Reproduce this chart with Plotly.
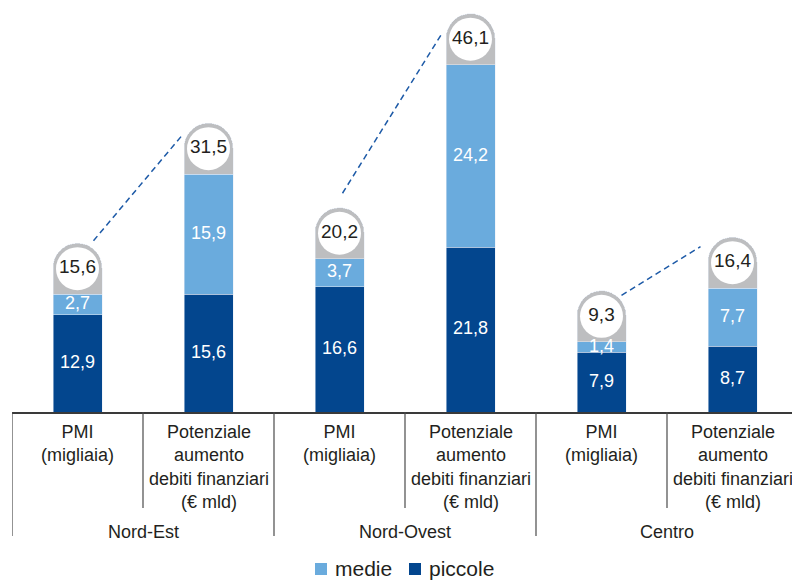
import plotly.graph_objects as go

# --- data -------------------------------------------------------------
regions = ["Nord-Est", "Nord-Ovest", "Centro"]
measures = ["PMI<br>(migliaia)",
            "Potenziale<br>aumento<br>debiti finanziari<br>(€ mld)"]
series_names = ["medie", "piccole"]
piccole = [12.9, 15.6, 16.6, 21.8, 7.9, 8.7]
medie = [2.7, 15.9, 3.7, 24.2, 1.4, 7.7]
totali = [15.6, 31.5, 20.2, 46.1, 9.3, 16.4]

# --- style ------------------------------------------------------------
DARK = "#03468E"
LIGHT = "#6AABDD"
CAP_GREY = "#BDBEC0"
TEXT = "#231F20"
FONT = "Liberation Sans, Arial, Helvetica, sans-serif"

W, H = 792, 580
LEFT, PLOT_H = 12, 412
PX_X = 131.0      # pixels per category slot
PX_Y = 7.55       # pixels per data unit
CAP = 51 / PX_Y   # grey cap height above each stack (data units)
BAR_W = 49 / PX_X

x = list(range(len(piccole)))
tops = [p + m for p, m in zip(piccole, medie)]


def fmt(v):
    return f"{v:.1f}".replace(".", ",")


def py(p):
    """pixel row -> paper y"""
    return (PLOT_H - p) / PLOT_H


def px(p):
    """pixel column -> paper x"""
    return (p - LEFT) / (W - LEFT)


fig = go.Figure()

fig.add_bar(x=x, y=piccole, name="piccole", marker_color=DARK,
            width=BAR_W, showlegend=False, hoverinfo="skip")
fig.add_bar(x=x, y=medie, name="medie", marker_color=LIGHT,
            width=BAR_W, showlegend=False, hoverinfo="skip")
fig.add_bar(x=x, y=[CAP] * len(x), marker_color=CAP_GREY, width=BAR_W,
            showlegend=False, hoverinfo="skip")

# segment values
fig.add_scatter(x=x, y=[p / 2 for p in piccole], mode="text",
                text=[fmt(v) for v in piccole], showlegend=False,
                textfont=dict(color="white", size=18, family=FONT),
                hoverinfo="skip", cliponaxis=False)
fig.add_scatter(x=x, y=[p + m / 2 for p, m in zip(piccole, medie)],
                mode="text", text=[fmt(v) for v in medie], showlegend=False,
                textfont=dict(color="white", size=18, family=FONT),
                hoverinfo="skip", cliponaxis=False)

# totals in white discs inside the caps
fig.add_scatter(x=x, y=[t + CAP / 2 for t in tops], mode="markers+text",
                marker=dict(size=43, color="white", line_width=0),
                text=[fmt(v) for v in totali], textposition="middle center",
                textfont=dict(color=TEXT, size=19, family=FONT),
                showlegend=False, hoverinfo="skip", cliponaxis=False)

# dashed connectors between the two discs of each region (pixel offsets)
start_off = [(16, -28), (3, -40), (20, -21)]
end_off = [(-25, -15), (-29, -5), (-32, -16)]
for g in range(len(regions)):
    a, b = 2 * g, 2 * g + 1
    ca = tops[a] + CAP / 2
    cb = tops[b] + CAP / 2
    xs = [a + start_off[g][0] / PX_X, b + end_off[g][0] / PX_X]
    ys = [ca - start_off[g][1] / PX_Y, cb - end_off[g][1] / PX_Y]
    fig.add_scatter(x=xs, y=ys, mode="lines", showlegend=False,
                    line=dict(color="#1D5AA7", width=1.5, dash="6px,4px"),
                    hoverinfo="skip", cliponaxis=False)

# category labels, region labels and separators under the axis
annotations = []
shapes = []
for i in x:
    annotations.append(dict(x=i, y=py(420), xref="x", yref="paper",
                            text=measures[i % 2], showarrow=False,
                            yanchor="top", xanchor="center",
                            font=dict(size=18, color=TEXT, family=FONT)))
for g, name in enumerate(regions):
    annotations.append(dict(x=2 * g + 0.5, y=py(520), xref="x", yref="paper",
                            text=name, showarrow=False, yanchor="top",
                            xanchor="center",
                            font=dict(size=18, color=TEXT, family=FONT)))
    shapes.append(dict(type="line", xref="x", yref="paper",
                       x0=2 * g + 0.5, x1=2 * g + 0.5, y0=0, y1=py(508),
                       line=dict(color="#4a4a4a", width=1.2)))
    shapes.append(dict(type="line", xref="x", yref="paper",
                       x0=2 * g - 0.5, x1=2 * g - 0.5, y0=0, y1=py(536),
                       line=dict(color="#4a4a4a", width=1.2)))

# key below the chart: square swatch + label for each series
key_x = [315, 409]
for name, col, kx in zip(series_names, (LIGHT, DARK), key_x):
    shapes.append(dict(type="rect", xref="paper", yref="paper",
                       x0=px(kx), x1=px(kx + 12), y0=py(575), y1=py(563),
                       fillcolor=col, line_width=0))
    annotations.append(dict(x=px(kx + 18), y=py(568), xref="paper",
                            yref="paper", text=name, showarrow=False,
                            xanchor="left", yanchor="middle",
                            font=dict(size=21, color=TEXT, family=FONT)))

fig.update_layout(
    width=W, height=H,
    margin=dict(l=LEFT, r=0, t=0, b=H - PLOT_H, pad=0),
    paper_bgcolor="white", plot_bgcolor="white",
    barmode="stack", barcornerradius="50%",
    xaxis=dict(range=[-0.5, -0.5 + (W - LEFT) / PX_X], showticklabels=False,
               showgrid=False, zeroline=False, showline=True,
               linecolor="#3a3a3a", linewidth=1.5, ticks="",
               fixedrange=True),
    yaxis=dict(range=[0, PLOT_H / PX_Y], visible=False, fixedrange=True),
    showlegend=False,
    annotations=annotations, shapes=shapes,
    font=dict(family=FONT, color=TEXT),
)

fig.write_html("out.html")
